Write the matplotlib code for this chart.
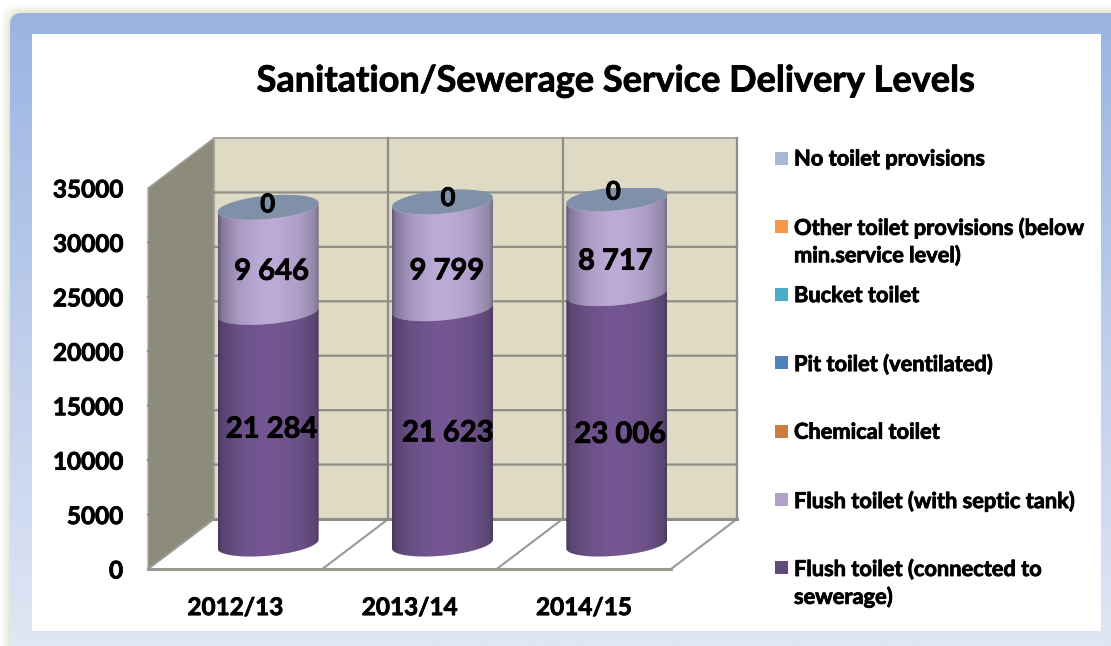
import numpy as np
import matplotlib
matplotlib.use("Agg")
import matplotlib.pyplot as plt
import matplotlib.patheffects as pe
from matplotlib.patches import FancyBboxPatch, Polygon, Rectangle

W, H = 1111, 646

years = ["2012/13", "2013/14", "2014/15"]
flush_sewer = [21284, 21623, 23006]
flush_septic = [9646, 9799, 8717]
no_toilet = [0, 0, 0]
sewer_labels = ["21 284", "21 623", "23 006"]
septic_labels = ["9 646", "9 799", "8 717"]
y_ticks = [0, 5000, 10000, 15000, 20000, 25000, 30000, 35000]

legend_names = [
    "No toilet provisions",
    "Other toilet provisions (below\nmin.service level)",
    "Bucket toilet",
    "Pit toilet (ventilated)",
    "Chemical toilet",
    "Flush toilet (with septic tank)",
    "Flush toilet (connected to\nsewerage)",
]
legend_colors = ["#a9b8d6", "#f79646", "#4bacc6", "#4f81bd", "#cc7d3e", "#b1a0c7", "#604a7b"]

plt.rcParams["font.family"] = "Lato"
plt.rcParams["font.weight"] = "bold"

# Lato bold is a bit light next to the original, thicken it slightly
THICK = [pe.withStroke(linewidth=0.6, foreground="black")]

# Front plane of the 3d box, in pixels
LEFT, RIGHT, TOP, BOTTOM = 148, 671, 188, 569
Y_MAX = 35000
SX = 3 / (RIGHT - LEFT)  # data units per pixel
SY = Y_MAX / (BOTTOM - TOP)
DX = 66 * SX  # depth of the box
DY = 50 * SY
RADIUS = 50.5 * SX
TILT = 4.5 * SY
MINOR = 11.7 * SY


def px(x, y):
    return x / W, 1 - y / H


def proj(x, v, depth):
    return x + depth * DX, v + depth * DY


def ellipse(cx, cy, t):
    return cx + RADIUS * np.cos(t), cy + TILT * np.cos(t) + MINOR * np.sin(t)


def shade(edge_l, mid, edge_r, n=200):
    # horizontal light across a cylinder
    pos = np.linspace(0, 1, n)
    stops = [0, 0.04, 0.2, 0.42, 0.58, 0.8, 0.96, 1]
    edge_l, mid, edge_r = np.array(edge_l), np.array(mid), np.array(edge_r)
    cols = [edge_l, edge_l * 0.6 + mid * 0.4, edge_l * 0.2 + mid * 0.8, mid, mid,
            edge_r * 0.2 + mid * 0.8, edge_r * 0.6 + mid * 0.4, edge_r]
    out = np.array([np.interp(pos, stops, [c[k] for c in cols]) for k in range(3)]).T
    return out[np.newaxis, :, :] / 255


fig = plt.figure(figsize=(W / 100, H / 100), dpi=100, facecolor="white")

# Frame behind the chart
bg = fig.add_axes([0, 0, 1, 1], zorder=0)
bg.set_xlim(0, W)
bg.set_ylim(H, 0)
bg.axis("off")

for grow, alpha in zip([9, 7, 5, 3, 1.5], [0.06, 0.08, 0.1, 0.14, 0.2]):
    bg.add_patch(FancyBboxPatch((10 - grow, 13 - grow), W + 40, H + 40,
                                boxstyle="round,pad=0,rounding_size=14",
                                fc="#c9d2a0", ec="none", alpha=alpha))

frame = FancyBboxPatch((10, 13), W + 40, H + 40, boxstyle="round,pad=0,rounding_size=12",
                       fc="none", ec="none")
bg.add_patch(frame)
grad_y = np.linspace(0, 1, 256)
top_col = np.array([154, 180, 226])
bot_col = np.array([224, 230, 244])
grad = (top_col[None, :] + (bot_col - top_col)[None, :] * grad_y[:, None]) / 255
img = bg.imshow(grad[:, np.newaxis, :], extent=(0, W, H, 13), aspect="auto", zorder=1)
img.set_clip_path(frame)
bg.set_xlim(0, W)
bg.set_ylim(H, 0)
bg.add_patch(Rectangle((32, 34), 1069, 597, fc="white", ec="none", zorder=2))

bg.text(616, 81, "Sanitation/Sewerage Service Delivery Levels", fontsize=26,
        ha="center", va="center", zorder=3, path_effects=THICK)

# Legend, one entry every 68 px
for i, (name, col) in enumerate(zip(legend_names, legend_colors)):
    yc = 158 + i * 68.3
    bg.add_patch(Rectangle((775, yc - 6.5), 13, 13, fc=col, ec="none", zorder=3))
    bg.text(794, yc - 9.5, name, fontsize=15.7, va="top", ha="left", linespacing=1.32,
            zorder=3, path_effects=THICK)

# Main axes sit exactly on the front plane
x0, y0 = px(LEFT, BOTTOM)
x1, y1 = px(RIGHT, TOP)
ax = fig.add_axes([x0, y0, x1 - x0, y1 - y0], zorder=1)
ax.patch.set_alpha(0)
for s in ax.spines.values():
    s.set_visible(False)

GRID = "#8e8e86"

# walls
back = [proj(0, 0, 1), proj(3, 0, 1), proj(3, Y_MAX, 1), proj(0, Y_MAX, 1)]
side = [proj(0, 0, 0), proj(0, 0, 1), proj(0, Y_MAX, 1), proj(0, Y_MAX, 0)]
ax.add_patch(Polygon(back, fc="#dfdac4", ec="#a8a8a0", lw=1.5, clip_on=False, zorder=1))
ax.add_patch(Polygon(side, fc="#8d8c7b", ec="#a8a8a0", lw=1, clip_on=False, zorder=1))

for v in y_ticks:
    if v in (0, Y_MAX):
        continue
    a = proj(0, v, 0)
    b = proj(0, v, 1)
    c = proj(3, v, 1)
    ax.plot([a[0], b[0], c[0]], [a[1], b[1], c[1]], color=GRID, lw=1.6, clip_on=False, zorder=2)

for i in range(1, 4):
    b = proj(i, 0, 1)
    c = proj(i, Y_MAX, 1)
    ax.plot([b[0], c[0]], [b[1], c[1]], color=GRID, lw=1.6, clip_on=False, zorder=2)

# floor
floor = [proj(0, 0, 0), proj(3, 0, 0), proj(3, 0, 1), proj(0, 0, 1)]
ax.add_patch(Polygon(floor, fc="white", ec="none", clip_on=False, zorder=3))
for i in range(0, 4):
    a = proj(i, 0, 0)
    b = proj(i, 0, 1)
    ax.plot([a[0], b[0]], [a[1], b[1]], color="#9a9a92", lw=1.5, clip_on=False, zorder=4)
a, b = proj(0, 0, 0), proj(3, 0, 0)
ax.plot([a[0], b[0]], [a[1], b[1]], color="#9a9a92", lw=2.2, clip_on=False, zorder=4)
a, b = proj(0, 0, 1), proj(3, 0, 1)
ax.plot([a[0], b[0]], [a[1], b[1]], color="#8e8e86", lw=2.2, clip_on=False, zorder=4)

# cylinders
front = np.linspace(np.pi, 2 * np.pi, 80)
dark = shade((72, 56, 92), (115, 86, 146), (76, 60, 94))
light = shade((98, 88, 118), (188, 170, 214), (120, 110, 138))

for i in range(len(years)):
    cx, base = proj(i + 0.5, 0, 0.5)
    segs = [(flush_sewer[i], flush_sewer[i] + flush_septic[i], light, 5),
            (0, flush_sewer[i], dark, 6)]
    for v0, v1, colors, z in segs:
        xb, yb = ellipse(cx, base + v0, front)
        xt, yt = ellipse(cx, base + v1, front[::-1])
        poly = Polygon(np.column_stack([np.r_[xb, xt], np.r_[yb, yt]]), closed=True,
                       transform=ax.transData)
        im = ax.imshow(colors, extent=(cx - RADIUS, cx + RADIUS, base + v0 - 2 * MINOR, base + v1 + 2 * MINOR),
                       aspect="auto", interpolation="bilinear", zorder=z)
        im.set_clip_path(poly)
    # top face carries the zero series
    tt = np.linspace(0, 2 * np.pi, 160)
    top_val = flush_sewer[i] + flush_septic[i] + no_toilet[i]
    xe, ye = ellipse(cx, base + top_val, tt)
    ax.fill(xe, ye, color="#8090a8", lw=0, zorder=7)

ax.set_xlim(0, 3)
ax.set_ylim(0, Y_MAX)

# value labels, nudged by hand like in the source chart (pixels)
sewer_nudge = [(3.5, -1.5), (5.5, -7), (3.5, -16)]
septic_nudge = [(3.5, -12), (4.5, -16), (-1.5, -15.5)]
zero_nudge = [(-0.5, 3), (5.5, 4), (-3.5, 7)]

for i in range(len(years)):
    cx, base = proj(i + 0.5, 0, 0.5)
    s1 = flush_sewer[i]
    s2 = flush_septic[i]
    for val, txt, nudge in [(s1 / 2, sewer_labels[i], sewer_nudge[i]),
                            (s1 + s2 / 2, septic_labels[i], septic_nudge[i]),
                            (s1 + s2 + no_toilet[i], str(no_toilet[i]), zero_nudge[i])]:
        fs = 21 if txt != "0" else 18.5
        ax.annotate(txt, (cx, base + val), xytext=(nudge[0] * 0.72, nudge[1] * 0.72),
                    textcoords="offset points", ha="center", va="center",
                    fontsize=fs, color="black", zorder=10, annotation_clip=False,
                    path_effects=THICK)

ax.set_yticks(y_ticks)
ax.set_yticklabels([str(v) for v in y_ticks], fontsize=17.5, path_effects=THICK)
ax.set_xticks([0.5, 1.5, 2.5])
ax.set_xticklabels(years, fontsize=17.5, path_effects=THICK)
ax.tick_params(axis="both", length=0)
ax.tick_params(axis="y", pad=18)
ax.tick_params(axis="x", pad=19.5)

fig.savefig("out.png", dpi=100)
